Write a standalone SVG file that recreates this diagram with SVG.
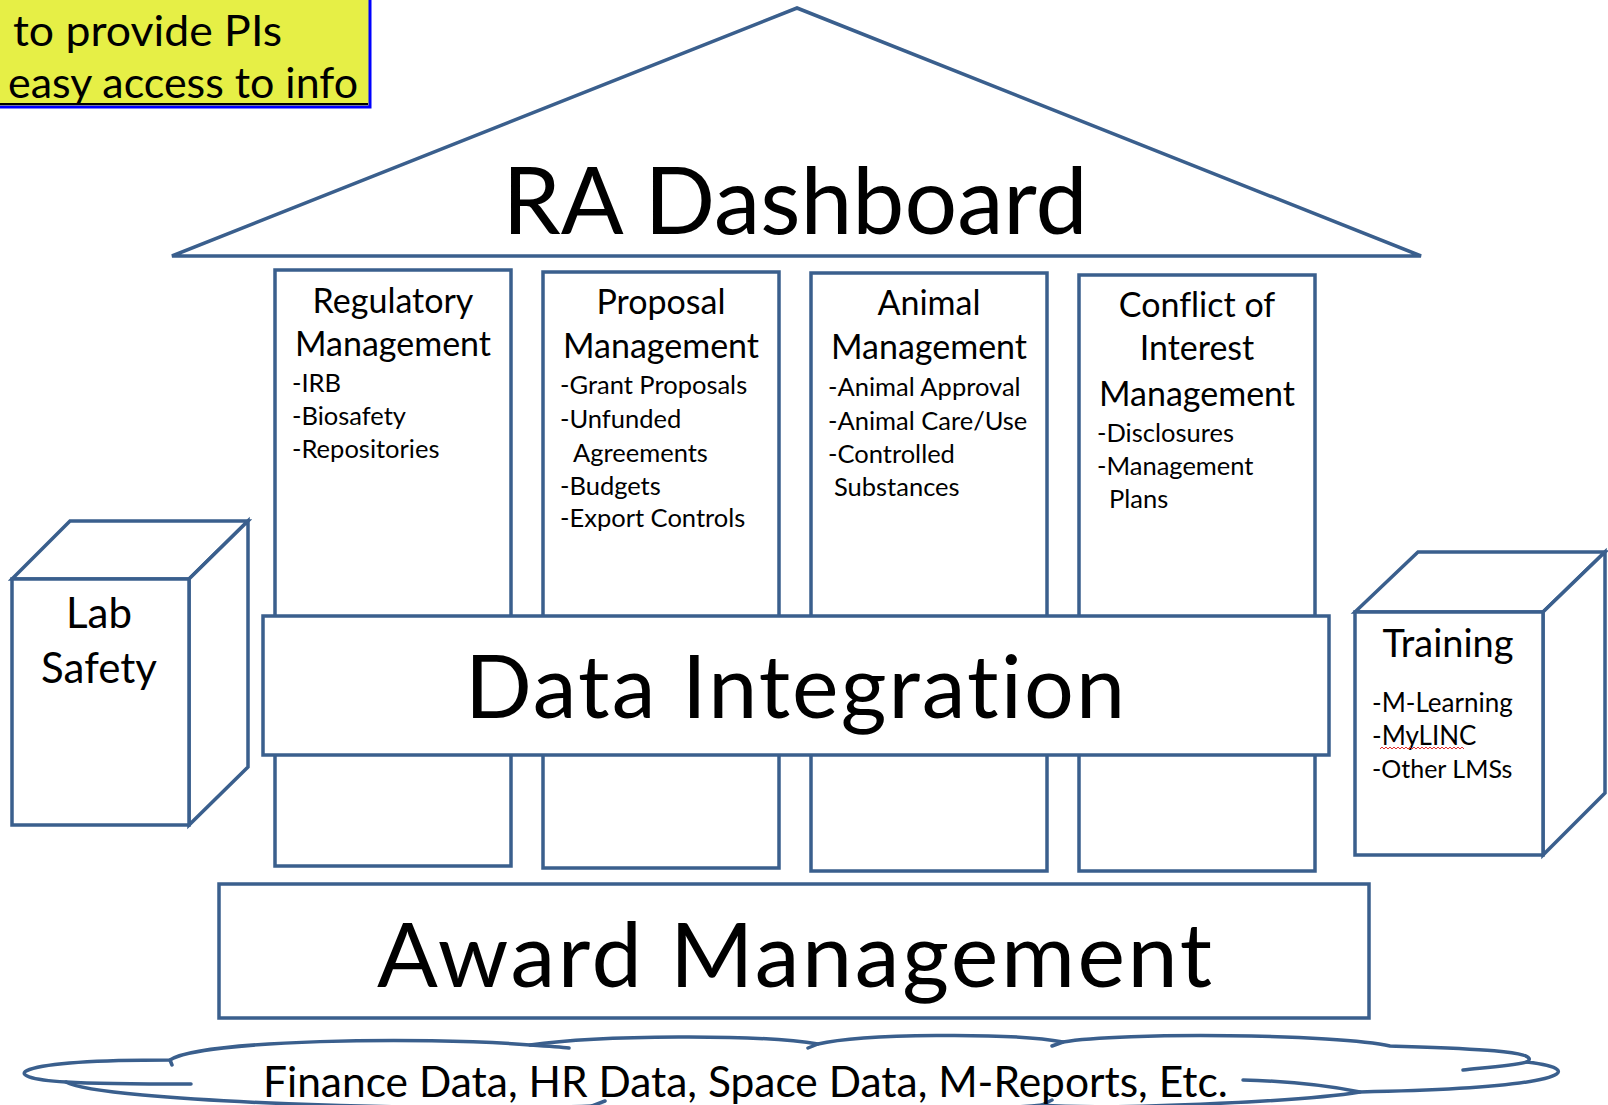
<svg xmlns="http://www.w3.org/2000/svg" width="1608" height="1105" viewBox="0 0 1608 1105">
<style>
.ln{fill:#fff;stroke:#3A5F8D;stroke-width:3.5;stroke-linejoin:miter}
.open{fill:none;stroke:#3A5F8D;stroke-width:3.5;stroke-linecap:round}
text{font-family:Lato,"Open Sans","Liberation Sans",sans-serif;fill:#000;font-variant-ligatures:none}
.t{font-size:34px;text-anchor:middle}
.i{font-size:25.5px}
.c{text-anchor:middle}
</style>
<rect x="0" y="0" width="1608" height="1105" fill="#fff"/>

<g id="roof">
<polygon class="ln" points="797,8 1421,256 172,256"/>
<text x="795" y="234" font-size="93" class="c">RA Dashboard</text>
</g>

<g id="col-regulatory">
<rect class="ln" x="275" y="270" width="236" height="596"/>
<text class="t" x="393" y="313">Regulatory</text>
<text class="t" x="393" y="356">Management</text>
<text class="i" x="292" y="392">-IRB</text>
<text class="i" x="292" y="425">-Biosafety</text>
<text class="i" x="292" y="458">-Repositories</text>
</g>

<g id="col-proposal">
<rect class="ln" x="543" y="272" width="236" height="596"/>
<text class="t" x="661" y="314">Proposal</text>
<text class="t" x="661" y="358">Management</text>
<text class="i" x="560" y="394">-Grant Proposals</text>
<text class="i" x="560" y="428">-Unfunded</text>
<text class="i" x="573" y="462">Agreements</text>
<text class="i" x="560" y="495">-Budgets</text>
<text class="i" x="560" y="527">-Export Controls</text>
</g>

<g id="col-animal">
<rect class="ln" x="811" y="273" width="236" height="598"/>
<text class="t" x="929" y="315">Animal</text>
<text class="t" x="929" y="359">Management</text>
<text class="i" x="828" y="396">-Animal Approval</text>
<text class="i" x="828" y="430">-Animal Care/Use</text>
<text class="i" x="828" y="463">-Controlled</text>
<text class="i" x="834" y="496">Substances</text>
</g>

<g id="col-coi">
<rect class="ln" x="1079" y="275" width="236" height="596"/>
<text class="t" x="1197" y="317">Conflict of</text>
<text class="t" x="1197" y="360">Interest</text>
<text class="t" x="1197" y="406">Management</text>
<text class="i" x="1097" y="442">-Disclosures</text>
<text class="i" x="1097" y="475">-Management</text>
<text class="i" x="1109" y="508">Plans</text>
</g>

<g id="data-integration">
<rect class="ln" x="263" y="616" width="1066" height="139"/>
<text x="465" y="718" font-size="88" textLength="660" lengthAdjust="spacing">Data Integration</text>
</g>

<g id="award-management">
<rect class="ln" x="219" y="884" width="1150" height="134"/>
<text x="377" y="987" font-size="90" textLength="835" lengthAdjust="spacing">Award Management</text>
</g>

<g id="lab-safety">
<polygon class="ln" points="12,579 70,521 248,521 189,579"/>
<polygon class="ln" points="189,579 248,521 248,767 189,825"/>
<rect class="ln" x="12" y="579" width="177" height="246"/>
<text x="99" y="628" font-size="42" class="c">Lab</text>
<text x="99" y="683" font-size="42" class="c">Safety</text>
</g>

<g id="training">
<polygon class="ln" points="1355,612 1418,552 1605,552 1543,612"/>
<polygon class="ln" points="1543,612 1605,552 1605,793 1543,855"/>
<rect class="ln" x="1355" y="612" width="188" height="243"/>
<text x="1448" y="657" font-size="38" class="c">Training</text>
<text x="1372" y="712" font-size="26">-M-Learning</text>
<text x="1372" y="745" font-size="26">-MyLINC</text>
<text x="1372" y="778" font-size="25">-Other LMSs</text>
<path d="M1380,749 l2,-2 l2,2 l2,-2 l2,2 l2,-2 l2,2 l2,-2 l2,2 l2,-2 l2,2 l2,-2 l2,2 l2,-2 l2,2 l2,-2 l2,2 l2,-2 l2,2 l2,-2 l2,2 l2,-2 l2,2 l2,-2 l2,2 l2,-2 l2,2 l2,-2 l2,2 l2,-2 l2,2 l2,-2 l2,2 l2,-2 l2,2 l2,-2 l2,2 l2,-2 l2,2 l2,-2 l2,2 l2,-2 l2,2" fill="none" stroke="#E03030" stroke-width="1"/>
</g>

<g id="data-sources">
<path class="ln" d="M170,1060 C200,1040 420,1036 530,1045 C600,1035 760,1034 818,1044 C860,1034 1010,1032 1063,1042 C1120,1032 1340,1034 1390,1046 C1450,1048 1545,1050 1527,1062 C1592,1070 1565,1088 1360,1092 C1300,1102 1100,1110 1042,1105 C950,1114 700,1112 592,1106 C450,1112 100,1102 66,1082 C-5,1078 5,1060 170,1060 Z"/>
<path class="open" d="M530,1045 C545,1046 560,1047 569,1048 M818,1044 L808,1048 M1063,1042 L1052,1046 M1527,1062 C1510,1066 1480,1068 1463,1070 M1360,1092 C1320,1084 1280,1081 1243,1080 M66,1082 C100,1084 150,1084 191,1084 M170,1060 L172,1065 M1042,1105 L1052,1100 M592,1106 L605,1101"/>
<text x="263" y="1097" font-size="42.5">Finance Data, HR Data, Space Data, M-Reports, Etc.</text>
</g>

<g id="goal-note">
<rect x="-5" y="-5" width="375" height="112" fill="#E6EF46" stroke="#0000FF" stroke-width="3"/>
<line x1="0" y1="104" x2="368" y2="104" stroke="#000" stroke-width="2"/>
<text x="13" y="46" font-size="42" textLength="269" lengthAdjust="spacingAndGlyphs">to provide PIs</text>
<text x="8" y="98" font-size="42" textLength="350" lengthAdjust="spacingAndGlyphs">easy access to info</text>
</g>
</svg>
